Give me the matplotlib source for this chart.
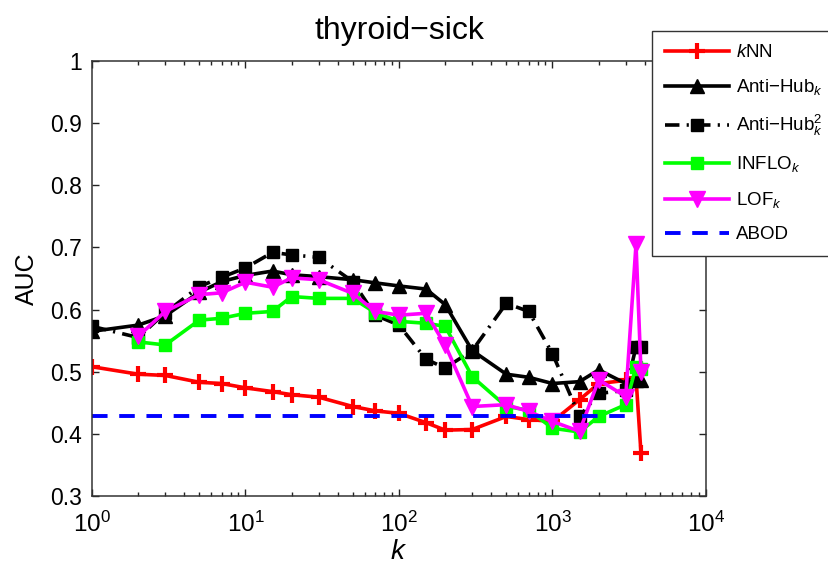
#!/usr/bin/env python3
"""AUC vs k for the thyroid-sick dataset."""

import numpy as np
import matplotlib
matplotlib.use("Agg")
import matplotlib.pyplot as plt
from matplotlib.ticker import LogLocator, FixedLocator, NullFormatter

plt.rcParams["font.family"] = ["Liberation Sans", "DejaVu Sans"]
plt.rcParams["mathtext.fontset"] = "custom"
plt.rcParams["mathtext.rm"] = "Liberation Sans"
plt.rcParams["mathtext.it"] = "Liberation Sans:italic"
plt.rcParams["mathtext.default"] = "regular"

nan = np.nan
k_values = [1, 2, 3, 5, 7, 10, 15, 20, 30, 50, 70, 100, 150, 200, 300,
            500, 700, 1000, 1500, 2000, 3000, 3500, 3771]
knn = [0.508, 0.496, 0.494, 0.483, 0.481, 0.474, 0.468, 0.463, 0.459, 0.444,
       0.437, 0.433, 0.418, 0.406, 0.407, 0.428, 0.423, 0.420, 0.455, 0.481,
       0.486, 0.490, 0.369]
antihub = [0.565, 0.575, 0.590, 0.628, 0.645, 0.655, 0.662, 0.656, 0.653, 0.648,
           0.643, 0.638, 0.633, 0.608, 0.534, 0.496, 0.491, 0.481, 0.484, 0.503,
           0.481, 0.487, 0.487]
antihub2 = [0.573, 0.555, 0.595, 0.637, 0.652, 0.667, 0.692, 0.688, 0.684, 0.645,
            0.591, 0.575, 0.520, 0.506, 0.534, 0.610, 0.597, 0.529, 0.428, 0.465,
            0.470, 0.540, 0.540]
inflo = [nan, 0.548, 0.543, 0.583, 0.586, 0.594, 0.597, 0.621, 0.618, 0.618,
         0.595, 0.581, 0.578, 0.573, 0.492, 0.444, 0.438, 0.409, 0.403, 0.428,
         0.447, 0.508, 0.505]
lof = [nan, 0.557, 0.597, 0.624, 0.627, 0.644, 0.636, 0.651, 0.648, 0.626,
       0.597, 0.591, 0.594, 0.543, 0.444, 0.447, 0.436, 0.420, 0.404, 0.487,
       0.460, 0.705, 0.500]
abod_auc = 0.429

fig = plt.figure(figsize=(8.29, 5.69), dpi=100)
ax = fig.add_axes([92 / 829, 1 - 496 / 569, (706 - 92) / 829, (496 - 61) / 569])

lw = 2.6
ax.plot(k_values, knn, color="#ff0000", lw=lw, marker="+", ms=11, mew=3,
        label="$\\mathit{k}$NN")
ax.plot(k_values, antihub, color="black", lw=lw, marker="^", ms=10,
        label="Anti$-$Hub$_{\\mathit{k}}$")
ax.plot(k_values, antihub2, color="black", lw=lw, marker="s", ms=9,
        dashes=(4, 2, 0.6, 2), label="Anti$-$Hub$^{2}_{\\mathit{k}}$")
ax.plot(k_values, inflo, color="#00ff00", lw=lw, marker="s", ms=9,
        label="INFLO$_{\\mathit{k}}$")
ax.plot(k_values, lof, color="#ff00ff", lw=lw, marker="v", ms=11,
        label="LOF$_{\\mathit{k}}$")
ax.plot(k_values[:-1], [abod_auc] * (len(k_values) - 1), color="#0000ff", lw=2.8,
        dashes=(4, 3), label="ABOD")

ax.set_xscale("log")
ax.set_xlim(1, 1e4)
ax.set_ylim(0.3, 1.0)
ax.xaxis.set_major_locator(FixedLocator([1, 10, 100, 1000, 10000]))
ax.set_xticklabels(["$10^{0}$", "$10^{1}$", "$10^{2}$", "$10^{3}$", "$10^{4}$"])
ax.xaxis.set_minor_locator(LogLocator(base=10, subs=np.arange(2, 10), numticks=20))
ax.xaxis.set_minor_formatter(NullFormatter())
ax.set_yticks(np.round(np.arange(0.3, 1.01, 0.1), 1))
ax.set_yticklabels(["0.3", "0.4", "0.5", "0.6", "0.7", "0.8", "0.9", "1"])

ax.tick_params(axis="both", which="both", direction="in", top=True, right=True,
               labelsize=16.5, colors="#222222", labelcolor="black")
ax.tick_params(axis="both", which="major", length=5, width=1, pad=7)
ax.tick_params(axis="x", which="major", pad=11, labelsize=17.5)
ax.tick_params(axis="x", which="minor", length=3, width=1)
for sp in ax.spines.values():
    sp.set_color("#333333")
    sp.set_linewidth(1.1)

ax.set_xlabel("$\\mathit{k}$", fontsize=20, labelpad=2)
ax.set_ylabel("AUC", fontsize=18, labelpad=8)
ax.set_title("thyroid\u2212sick", fontsize=23, pad=16)

fig.legend(loc="upper left", bbox_to_anchor=(652 / 829, 1 - 31 / 569),
           borderaxespad=0, fontsize=13.5, handlelength=3.4, labelspacing=0.85,
           borderpad=0.7, handletextpad=0.4, fancybox=False, framealpha=1,
           edgecolor="#333333")

fig.savefig("out.png", dpi=100)
